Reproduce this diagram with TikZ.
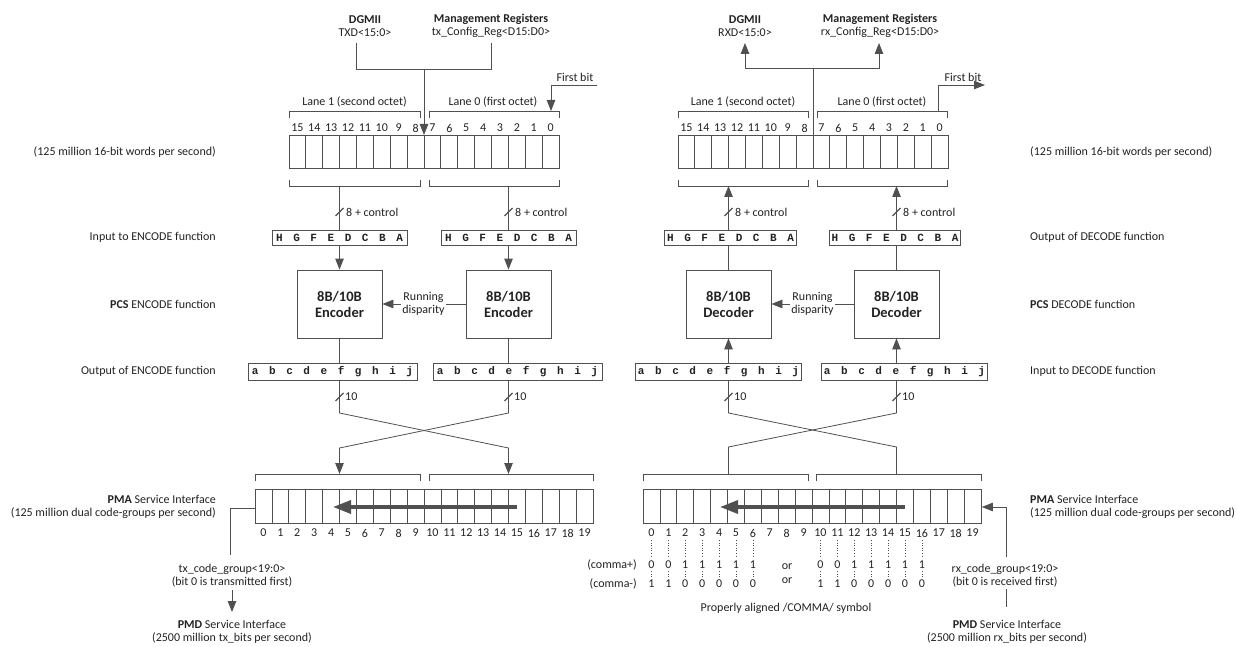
\documentclass[tikz,border=0pt]{standalone}
\usepackage{fontspec}
\setmainfont{Carlito}
\newfontfamily\codefont[WordSpace=1.6]{Liberation Mono}
\usetikzlibrary{arrows.meta,calc}
\definecolor{lc}{HTML}{505050}
\definecolor{tc}{HTML}{222222}
\begin{document}
\begin{tikzpicture}[x=1pt,y=-1pt,
  ln/.style={draw=lc,line width=0.8pt},
  arr/.style={ln,-{Triangle[length=11pt,width=8.5pt]}},
  bigarr/.style={draw=lc,line width=3.5pt,-{Triangle[length=18pt,width=13pt]}},
  slash/.style={draw=lc,line width=1.3pt},
  dots/.style={draw=lc,line width=0.6pt,dotted},
  txt/.style={text=tc,font=\fontsize{12}{13.5}\selectfont,inner sep=0pt},
  codebox/.style={draw=lc,line width=0.8pt,text=tc,font=\codefont\bfseries\fontsize{11}{12}\selectfont,inner xsep=2.5pt,inner ysep=0pt},
  encbox/.style={draw=lc,line width=0.8pt,text=tc,font=\bfseries\fontsize{14.5}{16}\selectfont,minimum width=85pt,minimum height=68pt,align=center,inner sep=0pt},
  reg/.style={draw=lc,line width=0.8pt,inner sep=0pt,anchor=north west,minimum height=33pt},
]
\useasboundingbox (0,0) rectangle (1236,647);

% ================= TX side =================
\node[txt,align=center] (dgT) at (365,26) {\textbf{DGMII}\\TXD<15:0>};
\node[txt,align=center] (mrT) at (491,26) {\textbf{Management Registers}\\tx\_Config\_Reg<D15:D0>};
\coordinate (tjT) at (424,69);
\draw[ln] (356,43) -- (356,69) -- (491,69) -- (491,43);

% top register
\node[reg,minimum width=270pt] (regT) at (289,135) {};
\foreach \k in {1,...,15} \draw[ln] ({289+\k*16.875},135) -- ++(0,33);
\foreach \k in {0,...,15}{
  \pgfmathtruncatemacro\b{15-\k}
  \node[txt] (tn\k) at ({289+(\k+0.5)*16.875},128) {\b};
}
\draw[arr] (tjT) -- (424,135);
\node[txt] (l1T) at (354.5,102) {Lane 1 (second octet)};
\node[txt] (l0T) at (493,102) {Lane 0 (first octet)};
\draw[ln] (289,118) -- (289,111) -- (420,111) -- (420,118);
\draw[ln] (429,118) -- (429,111) -- (559,111) -- (559,118);
\draw[ln] (289,180) -- (289,186) -- (420,186) -- (420,180);
\draw[ln] (429,180) -- (429,186) -- (559,186) -- (559,180);
\node[txt] (fbT) at (575,77) {First bit};
\draw[arr] (597,85) -- (551,85) -- (551,111);

% HGFEDCBA boxes
\node[codebox,minimum width=135pt,minimum height=15pt] (hgT1) at (339.5,237.5) {H G F E D C B A};
\node[codebox,minimum width=135pt,minimum height=15pt] (hgT2) at (508.5,237.5) {H G F E D C B A};
\draw[ln] (339.5,186) -- (hgT1.north);
\draw[ln] (508.5,186) -- (hgT2.north);
\draw[slash] (335.5,216) -- (343.5,208);
\draw[slash] (504.5,216) -- (512.5,208);
\node[txt,anchor=west] (c8T1) at (346,212) {8 + control};
\node[txt,anchor=west] (c8T2) at (515,212) {8 + control};

% encoders
\node[encbox] (encT1) at (339.5,304) {8B/10B\\Encoder};
\node[encbox] (encT2) at (508.5,304) {8B/10B\\Encoder};
\draw[arr] (hgT1.south) -- (encT1.north);
\draw[arr] (hgT2.south) -- (encT2.north);
\draw[arr] (encT2.west) -- (encT1.east);
\node[txt,align=center,fill=white,inner xsep=1pt] (rdT) at (423.5,304) {Running\\disparity};

% abcdefghij
\node[codebox,minimum width=169pt,minimum height=17pt] (abT1) at (332.5,371.5) {a b c d e f g h i j};
\node[codebox,minimum width=169pt,minimum height=17pt] (abT2) at (517.5,371.5) {a b c d e f g h i j};
\draw[ln] (encT1.south) -- (339.5,363);
\draw[ln] (encT2.south) -- (508.5,363);
\draw[ln] (339.5,380) -- (339.5,413) -- (508.5,448) -- (508.5,465);
\draw[ln] (508.5,380) -- (508.5,413) -- (339.5,448) -- (339.5,465);
\draw[arr] (339.5,460) -- (339.5,474);
\draw[arr] (508.5,460) -- (508.5,474);
\draw[slash] (335.5,401) -- (343.5,393);
\draw[slash] (504.5,401) -- (512.5,393);
\node[txt,anchor=west] (tT1) at (345,397) {10};
\node[txt,anchor=west] (tT2) at (514,397) {10};

% PMA register
\draw[ln] (255,481) -- (255,474) -- (420,474) -- (420,481);
\draw[ln] (429,481) -- (429,474) -- (593,474) -- (593,481);
\node[reg,minimum width=338pt,minimum height=34pt] (pmaT) at (255,489) {};
\foreach \k in {1,...,19} \draw[ln] ({255+\k*16.9},489) -- ++(0,34);
\foreach \k in {0,...,19}
  \node[txt] (pn\k) at ({255+(\k+0.5)*16.9},533) {\k};
\draw[bigarr] (517,507) -- (333,507);
\draw[ln] (pmaT.west |- 0,508) -- (230,508) -- (230,555);
\node[txt,align=center] (tcgT) at (232,575.5) {tx\_code\_group<19:0>\\(bit 0 is transmitted first)};
\draw[arr] (232,590) -- (232,612);
\node[txt,align=center] (pmdT) at (232,632) {\textbf{PMD} Service Interface\\(2500 million tx\_bits per second)};

% left labels
\node[txt,anchor=east] (lab1) at (216,152) {(125 million 16-bit words per second)};
\node[txt,anchor=east] (lab2) at (216,237) {Input to ENCODE function};
\node[txt,anchor=east] (lab3) at (216,304) {\textbf{PCS} ENCODE function};
\node[txt,anchor=east] (lab4) at (216,371) {Output of ENCODE function};
\node[txt,anchor=east,align=right] (lab5) at (216,507) {\textbf{PMA} Service Interface\\(125 million dual code-groups per second)};

% ================= RX side =================
\node[txt,align=center] (dgR) at (745,26) {\textbf{DGMII}\\RXD<15:0>};
\node[txt,align=center] (mrR) at (880,26) {\textbf{Management Registers}\\rx\_Config\_Reg<D15:D0>};
\coordinate (tjR) at (813,68);
\draw[arr] (tjR) -| (745,43);
\draw[arr] (tjR) -| (879,43);
\draw[ln] (tjR) -- (813,135);

\node[reg,minimum width=270pt] (regR) at (678,135) {};
\foreach \k in {1,...,15} \draw[ln] ({678+\k*16.875},135) -- ++(0,33);
\foreach \k in {0,...,15}{
  \pgfmathtruncatemacro\b{15-\k}
  \node[txt] (rn\k) at ({678+(\k+0.5)*16.875},128) {\b};
}
\node[txt] (l1R) at (743,102) {Lane 1 (second octet)};
\node[txt] (l0R) at (882,102) {Lane 0 (first octet)};
\draw[ln] (678,118) -- (678,111) -- (808,111) -- (808,118);
\draw[ln] (817,118) -- (817,111) -- (947,111) -- (947,118);
\draw[ln] (678,180) -- (678,186) -- (808,186) -- (808,180);
\draw[ln] (817,180) -- (817,186) -- (947,186) -- (947,180);
\node[txt] (fbR) at (963,77) {First bit};
\draw[arr] (938.5,111) -- (938.5,85) -- (985,85);

\node[codebox,minimum width=131pt,minimum height=15pt] (hgR1) at (730.5,237.5) {H G F E D C B A};
\node[codebox,minimum width=131pt,minimum height=15pt] (hgR2) at (895,237.5) {H G F E D C B A};
\draw[arr] (728.5,230) -- (728.5,186);
\draw[arr] (896.5,230) -- (896.5,186);
\draw[slash] (724.5,216) -- (732.5,208);
\draw[slash] (892.5,216) -- (900.5,208);
\node[txt,anchor=west] (c8R1) at (735,212) {8 + control};
\node[txt,anchor=west] (c8R2) at (903,212) {8 + control};

\node[encbox] (decR1) at (728.5,304) {8B/10B\\Decoder};
\node[encbox] (decR2) at (896.5,304) {8B/10B\\Decoder};
\draw[ln] (decR1.north) -- (728.5,245);
\draw[ln] (decR2.north) -- (896.5,245);
\draw[arr] (decR2.west) -- (decR1.east);
\node[txt,align=center,fill=white,inner xsep=1pt] (rdR) at (812.5,304) {Running\\disparity};

\node[codebox,minimum width=166pt,minimum height=17pt] (abR1) at (718.5,371.5) {a b c d e f g h i j};
\node[codebox,minimum width=166pt,minimum height=17pt] (abR2) at (904.5,371.5) {a b c d e f g h i j};
\draw[arr] (728.5,363) -- (decR1.south);
\draw[arr] (896.5,363) -- (decR2.south);
\draw[ln] (728.5,380) -- (728.5,413) -- (896.5,447) -- (896.5,474);
\draw[ln] (896.5,380) -- (896.5,413) -- (728.5,447) -- (728.5,474);
\draw[slash] (724.5,401) -- (732.5,393);
\draw[slash] (892.5,401) -- (900.5,393);
\node[txt,anchor=west] (tR1) at (734,397) {10};
\node[txt,anchor=west] (tR2) at (902,397) {10};

\draw[ln] (643,481) -- (643,474) -- (808,474) -- (808,481);
\draw[ln] (816,481) -- (816,474) -- (981,474) -- (981,481);
\node[reg,minimum width=338pt,minimum height=34pt] (pmaR) at (643,489) {};
\foreach \k in {1,...,19} \draw[ln] ({643+\k*16.9},489) -- ++(0,34);
\foreach \k in {0,...,19}
  \node[txt] (qn\k) at ({643+(\k+0.5)*16.9},533) {\k};
\draw[bigarr] (905,507) -- (720,507);
\draw[arr] (1006,557) -- (1006,507) -- (pmaR.east |- 0,507);
\node[txt,align=center] (rcgR) at (1005,575.5) {rx\_code\_group<19:0>\\(bit 0 is received first)};
\draw[ln] (1006,589) -- (1006,607);
\node[txt,align=center] (pmdR) at (1007,632) {\textbf{PMD} Service Interface\\(2500 million rx\_bits per second)};

% comma
\foreach \b/\p/\m in {0/0/1,1/0/1,2/1/0,3/1/0,4/1/0,5/1/0,6/1/0,10/0/1,11/0/1,12/1/0,13/1/0,14/1/0,15/1/0,16/1/0}{
  \draw[dots] ({643+(\b+0.5)*16.9},540) -- ++(0,18);
  \draw[dots] ({643+(\b+0.5)*16.9},571) -- ++(0,7);
  \node[txt] (cp\b) at ({643+(\b+0.5)*16.9},565) {\p};
  \node[txt] (cm\b) at ({643+(\b+0.5)*16.9},584) {\m};
}
\node[txt,anchor=east] (cpl) at (637,565) {(comma+)};
\node[txt,anchor=east] (cml) at (637,584) {(comma-)};
\node[txt] (or1) at (787,567) {or};
\node[txt] (or2) at (787,581) {or};
\node[txt] (pas) at (786,608) {Properly aligned /COMMA/ symbol};

% right labels
\node[txt,anchor=west] (rab1) at (1030,152) {(125 million 16-bit words per second)};
\node[txt,anchor=west] (rab2) at (1030,237) {Output of DECODE function};
\node[txt,anchor=west] (rab3) at (1030,304) {\textbf{PCS} DECODE function};
\node[txt,anchor=west] (rab4) at (1030,371) {Input to DECODE function};
\node[txt,anchor=west,align=left] (rab5) at (1030,507) {\textbf{PMA} Service Interface\\(125 million dual code-groups per second)};
\end{tikzpicture}
\end{document}
